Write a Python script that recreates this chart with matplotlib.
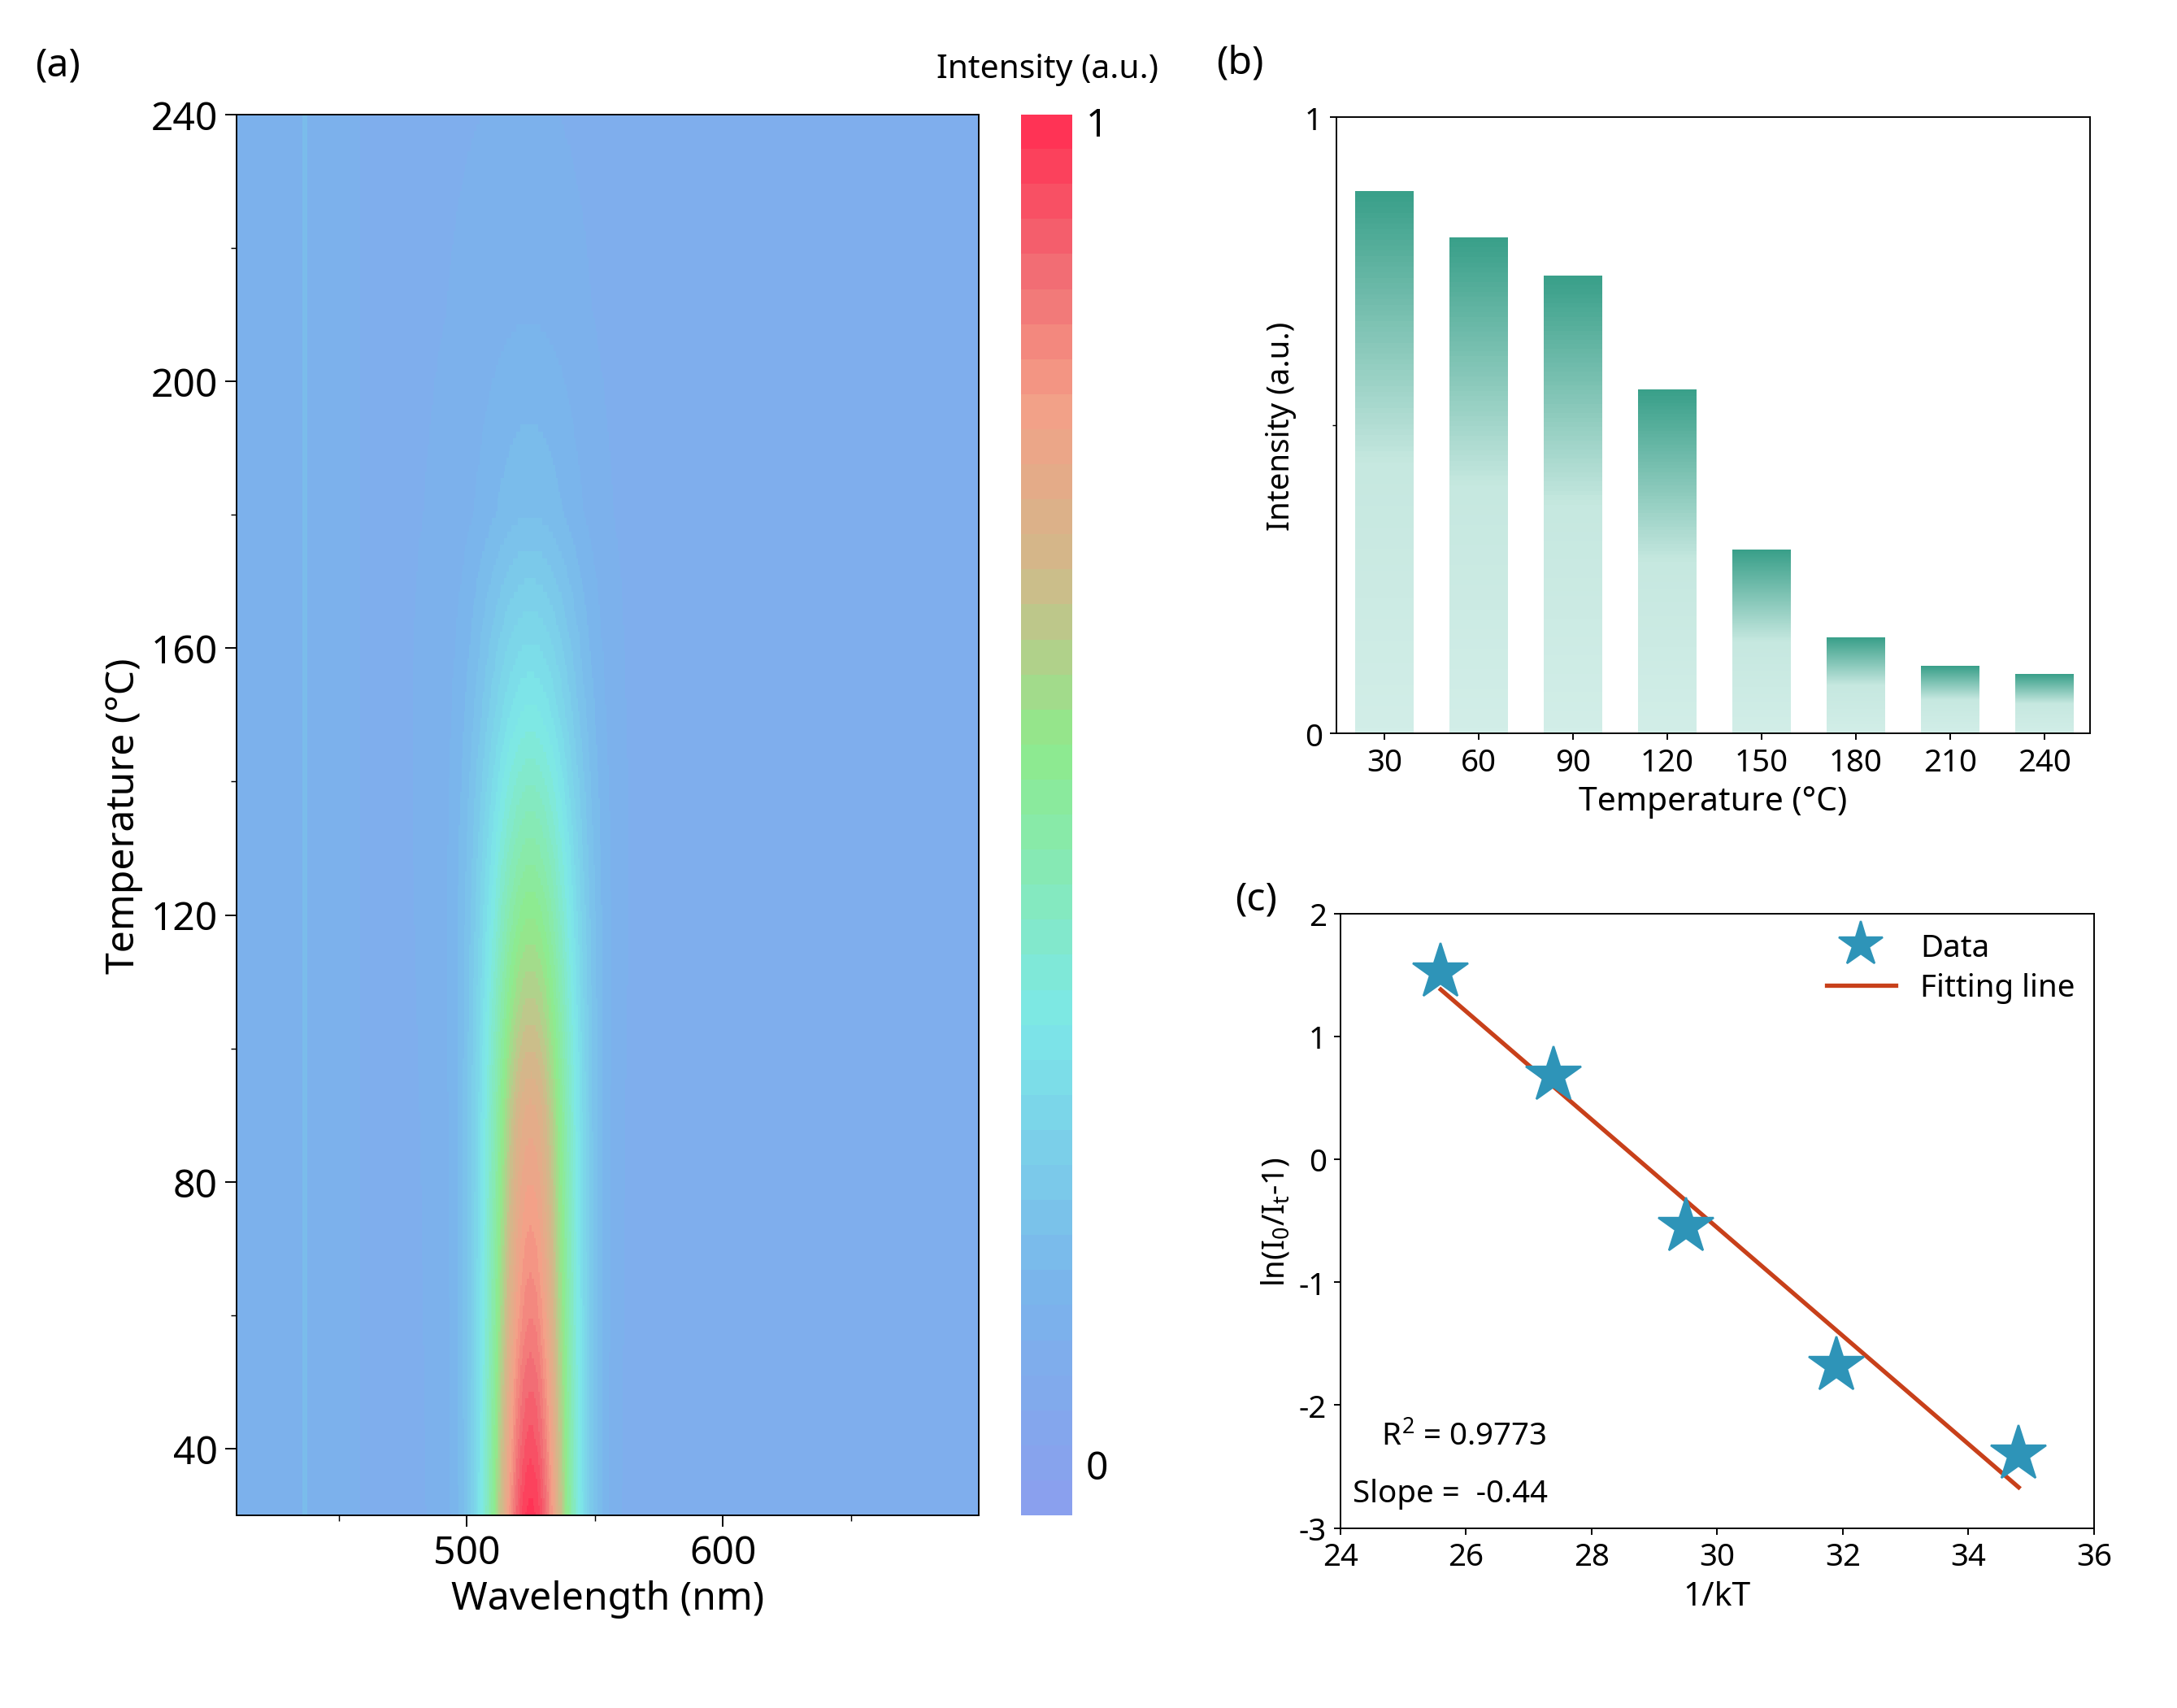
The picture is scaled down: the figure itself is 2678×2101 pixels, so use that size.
import numpy as np
import matplotlib.pyplot as plt
from matplotlib.colors import LinearSegmentedColormap

plt.rcParams['font.family'] = 'Noto Sans'
plt.rcParams['mathtext.default'] = 'regular'
plt.rcParams['axes.unicode_minus'] = False

# ---- data ----
# (a) emission map: peak intensity vs temperature
map_temps = [30, 60, 90, 120, 150, 180, 210, 240]
map_peak = [1.0, 0.86, 0.75, 0.56, 0.37, 0.21, 0.16, 0.14]
map_width = [12, 12.5, 13, 14, 15, 16, 16, 16]
peak_center = 525
background = 0.13

# (b) integrated intensity
bar_temps = [30, 60, 90, 120, 150, 180, 210, 240]
bar_vals = [0.88, 0.805, 0.742, 0.557, 0.298, 0.155, 0.109, 0.096]

# (c) Arrhenius fit
inv_kT = [25.6, 27.4, 29.5, 31.9, 34.8]
ln_ratio = [1.52, 0.68, -0.55, -1.68, -2.40]

cmap = LinearSegmentedColormap.from_list('pl', [
    (0.0, '#8aa0ee'), (0.15, '#7ab4ec'), (0.35, '#7de8e8'),
    (0.55, '#8eeb8c'), (0.68, '#d2b98a'), (0.8, '#f4a088'),
    (0.9, '#f26c74'), (1.0, '#ff3355')], N=40)

fig = plt.figure(figsize=(15.48, 12.15), dpi=173)

# ---- (a) ----
ax = fig.add_axes([168/1548, 1 - 1078/1215, 528/1548, 996/1215])
wl = np.linspace(410, 700, 580)
tt = np.linspace(30, 240, 211)
pk = np.interp(tt, map_temps, map_peak)
wd = np.interp(tt, map_temps, map_width)
bg = background - 0.03 * (wl - 410) / 290
Z = bg[None, :] + (pk[:, None] - background) * np.exp(-0.5 * ((wl[None, :] - peak_center) / wd[:, None]) ** 2)
Z[:, np.abs(wl - 437) < 1] += 0.06
ax.pcolormesh(wl, tt, Z, cmap=cmap, vmin=0, vmax=1, shading='auto')
ax.set_xlim(410, 700)
ax.set_ylim(30, 240)
ax.set_xticks([500, 600])
ax.set_xticks([450, 550, 650], minor=True)
ax.set_yticks([40, 80, 120, 160, 200, 240])
ax.set_yticks([60, 100, 140, 180, 220], minor=True)
ax.tick_params(labelsize=20, length=6)
ax.tick_params(which='minor', length=3)
ax.set_xlabel('Wavelength (nm)', fontsize=20)
ax.set_ylabel('Temperature (°C)', fontsize=20)
fig.text(25/1548, 1 - 47/1215, '(a)', fontsize=20, va='center')

cax = fig.add_axes([726/1548, 1 - 1078/1215, 36/1548, 996/1215])
grad = np.linspace(0, 1, 200)[:, None]
cax.imshow(grad, aspect='auto', cmap=cmap, origin='lower', extent=[0, 1, 0, 1])
cax.set_xticks([])
cax.set_yticks([])
for s in cax.spines.values():
    s.set_visible(False)
fig.text(772/1548, 1 - 90/1215, '1', fontsize=20, va='center')
fig.text(772/1548, 1 - 1045/1215, '0', fontsize=20, va='center')
fig.text(745/1548, 1 - 50/1215, 'Intensity (a.u.)', fontsize=17, ha='center', va='center')

# ---- (b) ----
bx = fig.add_axes([950/1548, 1 - 522/1215, 536/1548, 438/1215])
bar_cmap = LinearSegmentedColormap.from_list('bg', ['#d2eee8', '#c6e8e0', '#3aa08a'])
bw = 18.5
for t, v in zip(bar_temps, bar_vals):
    bx.imshow(np.linspace(0, 1, 100)[:, None], cmap=bar_cmap, origin='lower', aspect='auto',
              extent=[t - bw / 2, t + bw / 2, 0, v], zorder=2)
bx.set_xlim(14.6, 254.5)
bx.set_ylim(0, 1)
bx.set_aspect('auto')
bx.set_xticks(bar_temps)
bx.set_yticks([0, 1])
bx.set_yticks([0.5], minor=True)
bx.tick_params(labelsize=16)
bx.set_xlabel('Temperature (°C)', fontsize=17)
bx.set_ylabel('Intensity (a.u.)', fontsize=16)
fig.text(865/1548, 1 - 45/1215, '(b)', fontsize=20, va='center')

# ---- (c) ----
cx = fig.add_axes([953/1548, 1 - 1087/1215, 536/1548, 437/1215])
slope, icpt = np.polyfit(inv_kT, ln_ratio, 1)
xs = np.array([inv_kT[0], inv_kT[-1]])
cx.plot(inv_kT, ln_ratio, '*', ms=30, color='#2e94b8', label='Data', zorder=3)
cx.plot(xs, slope * xs + icpt, color='#c8401a', lw=2.2, label='Fitting line')
cx.set_xlim(24, 36)
cx.set_ylim(-3, 2)
cx.set_xticks(range(24, 37, 2))
cx.set_yticks(range(-3, 3))
cx.tick_params(labelsize=16)
cx.set_xlabel('1/kT', fontsize=17)
cx.set_ylabel('ln(I$_0$/I$_t$-1)', fontsize=16)
cx.legend(loc='upper right', fontsize=16, frameon=False, handlelength=2.2,
          borderaxespad=0.2, labelspacing=0.3, markerscale=0.8)
cx.text(24.4, -2.25, '  R$^2$ = 0.9773', fontsize=16, va='center')
cx.text(24.2, -2.72, 'Slope =  -0.44', fontsize=16, va='center')
fig.text(878/1548, 1 - 640/1215, '(c)', fontsize=20, va='center')

fig.savefig('out.png')
